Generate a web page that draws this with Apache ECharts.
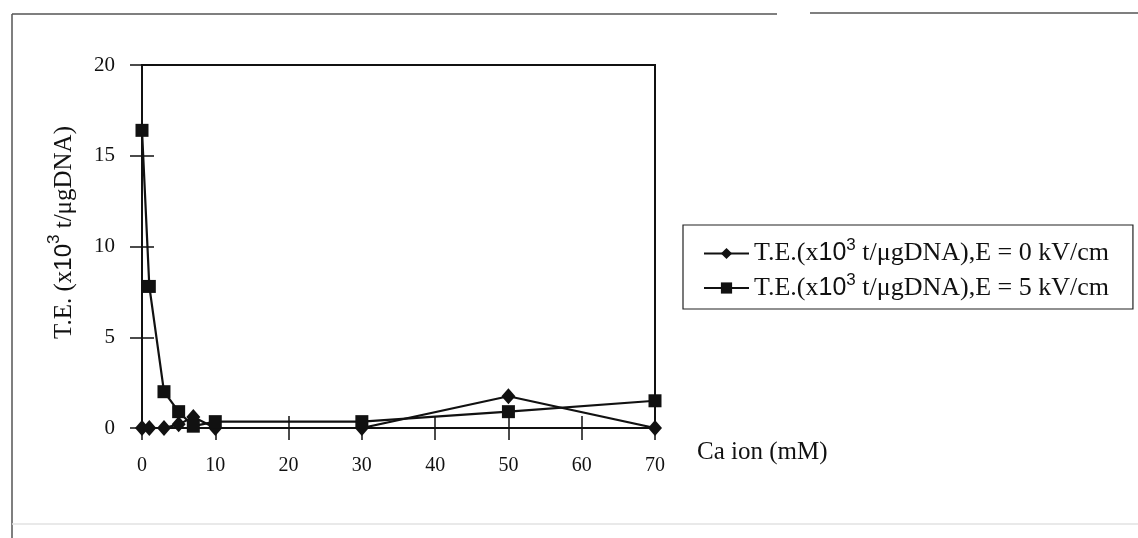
<!DOCTYPE html>
<html>
<head>
<meta charset="utf-8">
<script src="https://cdn.jsdelivr.net/npm/echarts@6/dist/echarts.min.js"></script>
<style>
  html, body { margin: 0; background: #fff; }
  #chart { width: 1138px; height: 538px; }
</style>
</head>
<body>
<div id="chart"></div>
<script>
  // Ca ion concentration (mM) and transfection efficiency (x10^3 t/ugDNA)
  const caIon = [0, 1, 3, 5, 7, 10, 30, 50, 70]
  const te0kV = [0, 0, 0, 0.2, 0.6, 0, 0, 1.75, 0]
  const te5kV = [16.4, 7.8, 2.0, 0.9, 0.1, 0.35, 0.35, 0.9, 1.5]
  const fieldLabels = ['0', '5']
  const seriesNames = fieldLabels.map(e => `T.E.(x10³ t/μgDNA),E = ${e} kV/cm`)

  const serif = '"Liberation Serif", "DejaVu Serif", serif'
  const sans = '"Liberation Sans", Arial, sans-serif'

  const legendRich = {
    t: { fontFamily: serif, fontSize: 26, color: '#111', lineHeight: 33 },
    n: { fontFamily: sans, fontSize: 25, color: '#111', lineHeight: 33 },
    s: { fontFamily: sans, fontSize: 17, color: '#111', lineHeight: 14, verticalAlign: 'top' },
  }
  const titleRich = {
    t: { fontFamily: serif, fontSize: 25, color: '#111', lineHeight: 36 },
    n: { fontFamily: sans, fontSize: 24, color: '#111', lineHeight: 36 },
    s: { fontFamily: sans, fontSize: 17, color: '#111', lineHeight: 14, verticalAlign: 'top' },
  }

  function legendText(name) {
    const i = seriesNames.indexOf(name)
    return `{t|T.E.(x}{n|10}{s|3}{t| t/μgDNA),E = ${fieldLabels[i]} kV/cm}`
  }

  const pairs = arr => caIon.map((x, i) => [x, arr[i]])

  const tickAxisCommon = {
    min: 0,
    axisLine: { show: false },
    axisLabel: { show: false },
    splitLine: { show: false },
    axisTick: { show: true, inside: true, length: 12, lineStyle: { color: '#111', width: 1.5 } },
  }

  const chart = echarts.init(document.getElementById('chart'))
  chart.setOption({
    backgroundColor: '#fff',
    animation: false,
    grid: {
      left: 142,
      top: 65,
      right: 483,
      bottom: 110,
      show: true,
      borderColor: '#111',
      borderWidth: 2,
      backgroundColor: 'transparent',
    },
    xAxis: [
      {
        type: 'value',
        min: 0,
        max: 70,
        interval: 10,
        position: 'bottom',
        name: 'Ca ion (mM)',
        nameLocation: 'end',
        nameGap: 42,
        nameTextStyle: {
          fontFamily: serif, fontSize: 25, color: '#111',
          verticalAlign: 'top', align: 'left', lineHeight: 48,
        },
        axisLine: { show: true, lineStyle: { color: '#111', width: 2 } },
        axisTick: { show: true, length: 12, lineStyle: { color: '#111', width: 1.5 } },
        axisLabel: { margin: 28, fontFamily: serif, fontSize: 20, color: '#111' },
        splitLine: { show: false },
      },
      Object.assign({ type: 'value', max: 70, interval: 10, position: 'bottom' }, tickAxisCommon),
    ],
    yAxis: [
      {
        type: 'value',
        min: 0,
        max: 20,
        interval: 5,
        position: 'left',
        name: '{t|T.E. (x}{n|10}{s|3}{t| t/μgDNA)}',
        nameLocation: 'middle',
        nameRotate: 90,
        nameGap: 60,
        nameTextStyle: { rich: titleRich, padding: [0, 0, 0, 28] },
        axisLine: { show: true, lineStyle: { color: '#111', width: 2 } },
        axisTick: { show: true, length: 12, lineStyle: { color: '#111', width: 1.5 } },
        axisLabel: { margin: 27, fontFamily: serif, fontSize: 21, color: '#111' },
        splitLine: { show: false },
      },
      Object.assign({ type: 'value', max: 20, interval: 5, position: 'left' }, tickAxisCommon),
    ],
    legend: {
      orient: 'vertical',
      left: 683,
      top: 225,
      padding: [12, 24, 8, 20],
      itemGap: 5,
      itemWidth: 45,
      itemHeight: 14,
      borderColor: '#222',
      borderWidth: 1.2,
      backgroundColor: '#fff',
      data: seriesNames,
      formatter: legendText,
      textStyle: { rich: legendRich, color: '#111' },
    },
    graphic: [
      { type: 'line', shape: { x1: 12, y1: 14, x2: 12, y2: 538 }, style: { stroke: '#555', lineWidth: 1.5 } },
      { type: 'line', shape: { x1: 12, y1: 14, x2: 777, y2: 14 }, style: { stroke: '#555', lineWidth: 1.5 } },
      { type: 'line', shape: { x1: 810, y1: 13, x2: 1138, y2: 13 }, style: { stroke: '#555', lineWidth: 1.5 } },
      { type: 'line', shape: { x1: 12, y1: 524, x2: 1138, y2: 524 }, style: { stroke: '#e2e2e2', lineWidth: 1.5 } },
    ],
    series: [
      {
        name: seriesNames[0],
        type: 'line',
        data: pairs(te0kV),
        symbol: 'diamond',
        symbolSize: [14, 16],
        lineStyle: { color: '#111', width: 2.2 },
        itemStyle: { color: '#111' },
        z: 3,
      },
      {
        name: seriesNames[1],
        type: 'line',
        data: pairs(te5kV),
        symbol: 'rect',
        symbolSize: 13,
        lineStyle: { color: '#111', width: 2.2 },
        itemStyle: { color: '#111' },
        z: 4,
      },
    ],
  })
</script>
</body>
</html>
